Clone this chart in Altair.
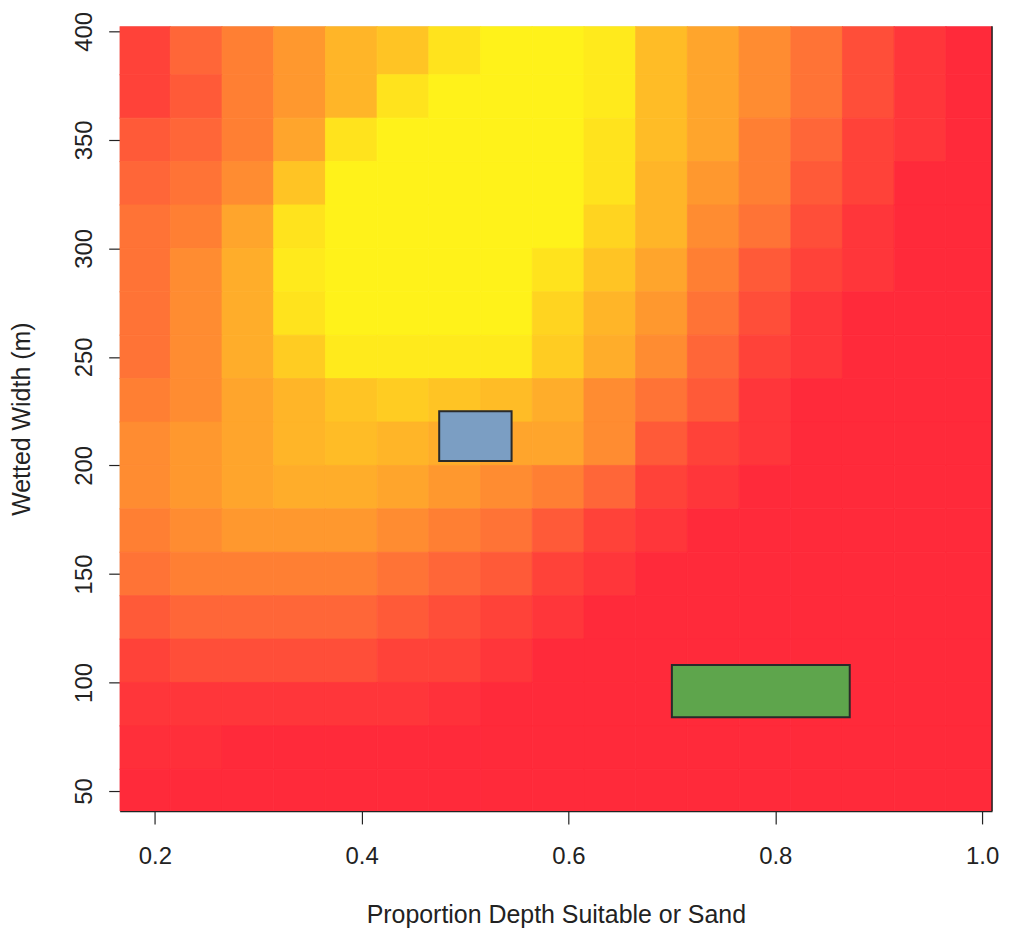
import altair as alt
import pandas as pd

# x cell centres (Proportion Depth Suitable or Sand) and y cell centres (Wetted Width, m)
x_centers = [0.19, 0.24, 0.29, 0.34, 0.39, 0.44, 0.49, 0.54, 0.59, 0.64,
             0.69, 0.74, 0.79, 0.84, 0.89, 0.94, 0.99]
y_centers = [390, 370, 350, 330, 310, 290, 270, 250, 230, 210,
             190, 170, 150, 130, 110, 90, 70, 50]

# suitability level (0 = red, 10 = yellow), rows top to bottom
levels = [
    [1, 2.5, 3.5, 4.5, 6, 7, 9, 10, 10, 9.5, 6.5, 5, 4, 3, 1.5, 0.5, 0],
    [1, 2, 3.5, 4.5, 6, 9, 10, 10, 10, 9.5, 6.5, 5, 4, 3, 1.5, 0.5, 0],
    [2, 2.5, 3.5, 5, 9, 10, 10, 10, 10, 9, 6.5, 5, 3.5, 2.5, 1, 0.5, 0],
    [2.5, 3, 4, 7, 10, 10, 10, 10, 10, 9, 6, 4.5, 3.5, 2, 1, 0, 0],
    [3, 3.5, 5, 9, 10, 10, 10, 10, 10, 8, 6, 4, 3, 1.5, 0.5, 0, 0],
    [3, 4, 5.5, 9.5, 10, 10, 10, 10, 9, 7, 5, 3.5, 2, 1, 0.5, 0, 0],
    [3, 4, 5.5, 9, 10, 10, 10, 10, 8, 6, 4.5, 3, 1.5, 0.5, 0, 0, 0],
    [3, 4, 5.5, 7.5, 9.5, 9.5, 9.5, 9.5, 7.5, 5.5, 4, 2.5, 1, 0.5, 0, 0, 0],
    [3.5, 4, 5, 6, 7, 7.5, 7, 6.5, 5.5, 4, 3, 2, 0.5, 0, 0, 0, 0],
    [4, 4.5, 5, 6, 6.5, 6, 5.5, 5, 5, 4, 2, 1, 0.5, 0, 0, 0, 0],
    [4, 4.5, 5, 5.5, 5.5, 5, 4.5, 4, 3.5, 2.5, 1, 0.5, 0, 0, 0, 0, 0],
    [3.5, 4, 4.5, 4.5, 4.5, 4, 3.5, 3, 2, 1, 0.5, 0, 0, 0, 0, 0, 0],
    [3, 3.5, 3.5, 3.5, 3.5, 3, 2.5, 2, 1, 0.5, 0, 0, 0, 0, 0, 0, 0],
    [2, 2.5, 2.5, 2.5, 2.5, 2, 1.5, 1, 0.5, 0, 0, 0, 0, 0, 0, 0, 0],
    [1, 1.5, 1.5, 1.5, 1.5, 1, 1, 0.5, 0, 0, 0, 0, 0, 0, 0, 0, 0],
    [0.5, 0.5, 0.5, 0.5, 0.5, 0.5, 0.3, 0, 0, 0, 0, 0, 0, 0, 0, 0, 0],
    [0.2, 0.2, 0, 0, 0, 0, 0, 0, 0, 0, 0, 0, 0, 0, 0, 0, 0],
    [0, 0, 0, 0, 0, 0, 0, 0, 0, 0, 0, 0, 0, 0, 0, 0, 0],
]

# highlighted boxes
box_names = ["blue", "green"]
box_x0 = [0.475, 0.700]
box_x1 = [0.545, 0.872]
box_y0 = [202, 84]
box_y1 = [225, 108]
box_colors = ["#7B9EC3", "#5EA54C"]

x_ticks = [0.2, 0.4, 0.6, 0.8, 1.0]
y_ticks = [50, 100, 150, 200, 250, 300, 350, 400]

dx = 0.025
dy = 10
rows = []
for yi, yc in enumerate(y_centers):
    for xi, xc in enumerate(x_centers):
        rows.append({
            "x0": xc - dx, "x1": xc + dx,
            "y0": yc - dy, "y1": (yc + dy) if yi > 0 else yc + dy + 5,
            "level": levels[yi][xi],
        })
grid = pd.DataFrame(rows)
boxes = pd.DataFrame({"name": box_names, "x0": box_x0, "x1": box_x1,
                      "y0": box_y0, "y1": box_y1, "color": box_colors})

FONT = "Liberation Sans"
FS = 24
TFS = 25
xdom = [0.166, 1.0096]
ydom = [40.8, 402.3]

xs = alt.Scale(domain=xdom, nice=False, zero=False)
ys = alt.Scale(domain=ydom, nice=False, zero=False)
heat_scale = alt.Scale(
    domain=[0, 2.5, 5, 7.5, 10],
    range=["#FF2A3A", "#FF6638", "#FFA52C", "#FFCC22", "#FFF21A"],
    interpolate="rgb")

heat = alt.Chart(grid).mark_rect(clip=True, strokeWidth=0.8).encode(
    x=alt.X("x0:Q", scale=xs, axis=alt.Axis(
        values=x_ticks, format=".1f", title="Proportion Depth Suitable or Sand",
        grid=False, domain=True, domainColor="#222", domainWidth=1.5,
        tickColor="#222", tickSize=13, tickWidth=1.2,
        labelFont=FONT, labelFontSize=FS, labelColor="#222", labelPadding=21,
        titleFont=FONT, titleFontSize=TFS, titleFontWeight="normal", titleColor="#222",
        titlePadding=34)),
    x2="x1:Q",
    y=alt.Y("y0:Q", scale=ys, axis=alt.Axis(
        values=y_ticks, format="d", title="Wetted Width (m)",
        grid=False, domain=False,
        tickColor="#222", tickSize=11, tickWidth=1.2,
        labelFont=FONT, labelFontSize=FS, labelColor="#222", labelAngle=270,
        labelAlign="center", labelBaseline="bottom", labelPadding=12,
        titleFont=FONT, titleFontSize=TFS, titleFontWeight="normal", titleColor="#222",
        titlePadding=38)),
    y2="y1:Q",
    color=alt.Color("level:Q", legend=None, scale=heat_scale),
    stroke=alt.Stroke("level:Q", legend=None, scale=heat_scale),
)

rects = alt.Chart(boxes).mark_rect(stroke="#2a2a2a", strokeWidth=2).encode(
    x=alt.X("x0:Q", scale=xs),
    x2="x1:Q",
    y=alt.Y("y0:Q", scale=ys),
    y2="y1:Q",
    color=alt.Color("color:N", scale=None),
)

frame = alt.Chart(pd.DataFrame({"v": [xdom[1]]})).mark_rule(
    color="#222", strokeWidth=1.5).encode(
    x=alt.X("v:Q", scale=xs),
)

chart = alt.layer(heat, rects, frame).resolve_scale(
    color="independent", stroke="independent"
).properties(
    width=875, height=787,
    autosize=alt.AutoSizeParams(type="none"),
    padding={"left": 112, "top": 17, "right": 10, "bottom": 120},
).configure_view(stroke=None).configure(background="white")

chart.save("out.html", embed_options={"renderer": "svg", "actions": False})
